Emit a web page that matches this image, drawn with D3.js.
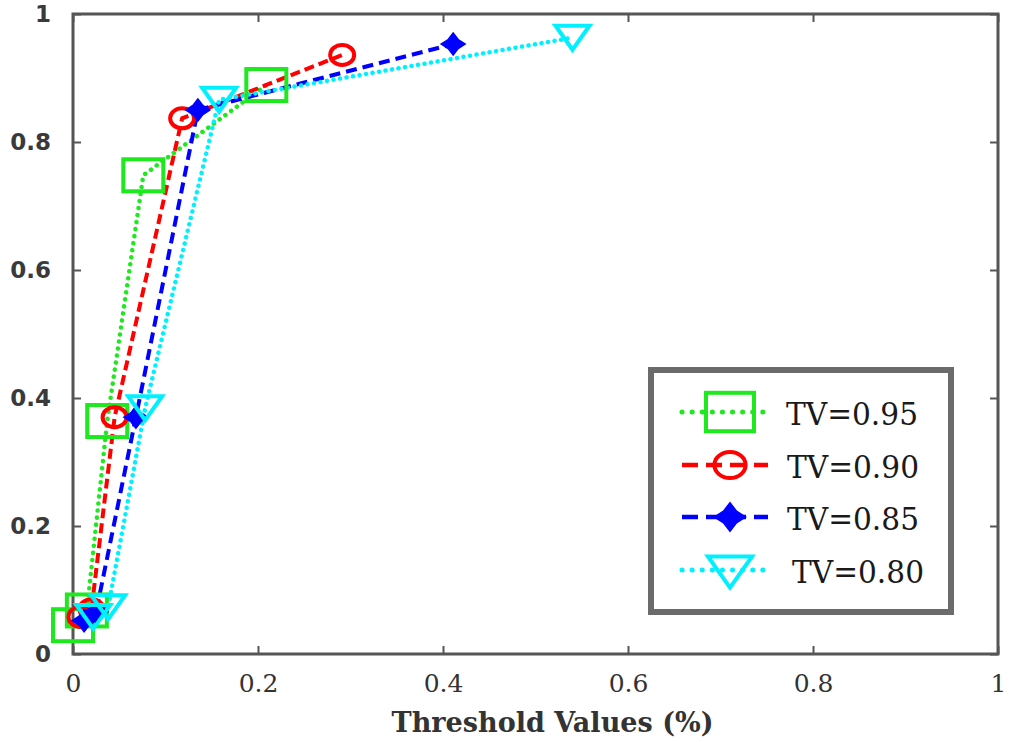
<!DOCTYPE html>
<html>
<head>
<meta charset="utf-8">
<script src="https://cdn.jsdelivr.net/npm/d3@7"></script>
<style>
  body { margin: 0; background: #fff; }
  svg { display: block; }
</style>
</head>
<body>
<div id="chart"></div>
<script>
// Series: [threshold value, y]
const tv95 = [[0, 0.045], [0.015, 0.068], [0.037, 0.364], [0.076, 0.748], [0.209, 0.889]];
const tv90 = [[0.008, 0.058], [0.02, 0.07], [0.045, 0.370], [0.118, 0.837], [0.291, 0.936]];
const tv85 = [[0.012, 0.052], [0.025, 0.066], [0.068, 0.370], [0.135, 0.850], [0.411, 0.953]];
const tv80 = [[0.022, 0.058], [0.038, 0.073], [0.078, 0.384], [0.158, 0.866], [0.54, 0.963]];

const seriesNames = ['TV=0.95', 'TV=0.90', 'TV=0.85', 'TV=0.80'];
const xTicks = [0, 0.2, 0.4, 0.6, 0.8, 1];
const yTicks = [0, 0.2, 0.4, 0.6, 0.8, 1];
const xTitle = 'Threshold Values (%)';

let w = 1011, h = 742,
  plotL = 73, plotR = 998, plotT = 14, plotB = 654;

let x = d3.scaleLinear().domain([0, 1]).range([plotL, plotR]),
  y = d3.scaleLinear().domain([0, 1]).range([plotB, plotT]);

// style per series (colour, dash, marker)
let styles = [
  { data: tv95, color: '#1ee81e', dash: '0.1,7', marker: 'square' },
  { data: tv90, color: '#ff0000', dash: '10,5', marker: 'circle' },
  { data: tv85, color: '#0000ff', dash: '11,6', marker: 'star' },
  { data: tv80, color: '#00f0ff', dash: '0.1,6.5', marker: 'tri' }
];

let svg = d3.select('#chart').append('svg')
  .attr('width', w).attr('height', h);

svg.append('rect').attr('width', w).attr('height', h).attr('fill', '#fff');

// axes with inward ticks on all four sides
let axisColor = '#555';
function styleAxis(g) {
  g.select('.domain').remove();
  g.selectAll('.tick line').attr('stroke', axisColor).attr('stroke-width', 2);
}

svg.append('g').attr('transform', `translate(0,${plotB})`)
  .call(d3.axisBottom(x).tickValues(xTicks).tickSize(-8).tickPadding(14).tickFormat(d3.format('')))
  .call(styleAxis)
  .selectAll('text')
  .attr('font-family', '"DejaVu Serif", serif')
  .attr('font-size', 25)
  .attr('fill', '#333')
  .attr('dy', '0.95em');

svg.append('g').attr('transform', `translate(0,${plotT})`)
  .call(d3.axisTop(x).tickValues(xTicks).tickSize(-8).tickFormat(''))
  .call(styleAxis);

svg.append('g').attr('transform', `translate(${plotL},0)`)
  .call(d3.axisLeft(y).tickValues(yTicks).tickSize(-8).tickPadding(22).tickFormat(d3.format('')))
  .call(styleAxis)
  .selectAll('text')
  .attr('font-family', '"DejaVu Sans", sans-serif')
  .attr('font-weight', 'bold')
  .attr('font-size', 23)
  .attr('fill', '#3a3a3a');

svg.append('g').attr('transform', `translate(${plotR},0)`)
  .call(d3.axisRight(y).tickValues(yTicks).tickSize(-8).tickFormat(''))
  .call(styleAxis);

// plot frame
svg.append('rect')
  .attr('x', plotL).attr('y', plotT)
  .attr('width', plotR - plotL).attr('height', plotB - plotT)
  .attr('fill', 'none').attr('stroke', axisColor).attr('stroke-width', 3);

// x axis title
svg.append('text')
  .attr('x', (plotL + plotR) / 2 + 17).attr('y', 732)
  .attr('text-anchor', 'middle')
  .attr('font-family', '"DejaVu Serif", serif')
  .attr('font-weight', 'bold')
  .attr('font-size', 27)
  .attr('fill', '#333')
  .attr('textLength', 322)
  .attr('lengthAdjust', 'spacingAndGlyphs')
  .text(xTitle);

// marker drawer (markers are wider than tall, like the stretched original)
function drawMarker(g, kind, color, cx, cy, k) {
  k = k || 1;
  if (kind === 'square') {
    g.append('rect')
      .attr('x', cx - 20 * k).attr('y', cy - 16 * k)
      .attr('width', 40 * k).attr('height', 32 * k)
      .attr('fill', 'none').attr('stroke', color).attr('stroke-width', 4);
  } else if (kind === 'circle') {
    g.append('ellipse')
      .attr('cx', cx).attr('cy', cy).attr('rx', 12 * k).attr('ry', 10 * k)
      .attr('fill', 'none').attr('stroke', color).attr('stroke-width', 4);
  } else if (kind === 'star') {
    let rx = 12 * k, ry = 11 * k, ix = 5 * k, iy = 4.5 * k;
    let pts = [[0, -ry], [ix, -iy], [rx, 0], [ix, iy], [0, ry], [-ix, iy], [-rx, 0], [-ix, -iy]];
    g.append('path')
      .attr('d', 'M' + pts.map(p => [cx + p[0], cy + p[1]].join(',')).join('L') + 'Z')
      .attr('fill', color).attr('stroke', color).attr('stroke-width', 1.5);
  } else {
    let hw = 17 * k, hh = 12 * k;
    g.append('path')
      .attr('d', `M${cx - hw},${cy - hh}L${cx + hw},${cy - hh}L${cx},${cy + hh}Z`)
      .attr('fill', 'none').attr('stroke', color).attr('stroke-width', 4)
      .attr('stroke-linejoin', 'miter');
  }
}

let line = d3.line().x(d => x(d[0])).y(d => y(d[1]));
let dotted = s => s.dash.startsWith('0.1');

let plot = svg.append('g');
styles.forEach(s => {
  plot.append('path')
    .datum(s.data)
    .attr('d', line)
    .attr('fill', 'none')
    .attr('stroke', s.color)
    .attr('stroke-width', dotted(s) ? 4.5 : 4)
    .attr('stroke-linecap', dotted(s) ? 'round' : 'butt')
    .attr('stroke-dasharray', s.dash);
});
styles.forEach(s => {
  let mg = plot.append('g');
  s.data.forEach(d => drawMarker(mg, s.marker, s.color, x(d[0]), y(d[1])));
});

// legend
let legend = svg.append('g').attr('id', 'legend');
legend.append('rect')
  .attr('x', 651).attr('y', 370).attr('width', 300).attr('height', 242)
  .attr('fill', '#fff').attr('stroke', '#6b6b6b').attr('stroke-width', 6);

let rowY = [412, 465, 517, 570],
  textX = [786, 787, 787, 792];
styles.forEach((s, i) => {
  legend.append('line')
    .attr('x1', 682).attr('x2', 768)
    .attr('y1', rowY[i]).attr('y2', rowY[i])
    .attr('stroke', s.color).attr('stroke-width', dotted(s) ? 5 : 4.5)
    .attr('stroke-linecap', dotted(s) ? 'round' : 'butt')
    .attr('stroke-dasharray', dotted(s) ? '0.1,10' : '16,8');
  drawMarker(legend, s.marker, s.color, 730, rowY[i] + (s.marker === 'tri' ? 2 : 0), s.marker === 'square' ? 1.2 : 1.3);
  legend.append('text')
    .attr('x', textX[i]).attr('y', rowY[i] + 13)
    .attr('font-family', '"DejaVu Serif", serif')
    .attr('font-size', 32)
    .attr('fill', '#1a1a1a')
    .attr('textLength', 132)
    .attr('lengthAdjust', 'spacingAndGlyphs')
    .text(seriesNames[i]);
});
</script>
</body>
</html>
